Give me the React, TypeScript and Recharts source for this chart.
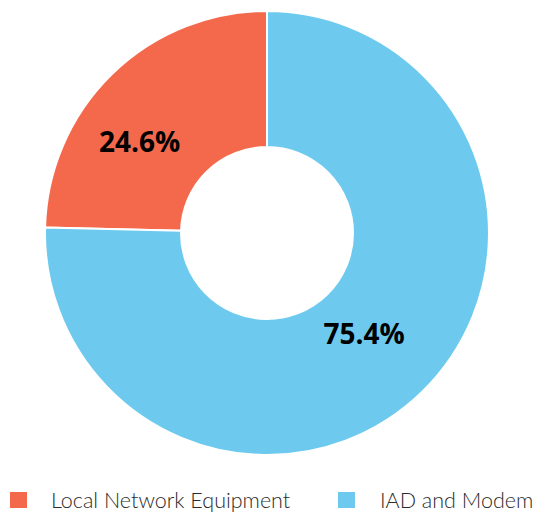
import { PieChart, Pie, Cell } from "recharts";

const categories = ["Local Network Equipment", "IAD and Modem"];
const shares = [24.6, 75.4];
const colors = ["#F4694C", "#6DCAEE"];

const data = categories.map((name, i) => ({ name, value: shares[i] }));

const RADIAN = Math.PI / 180;

// label position: a bit off the ring middle, like the original
const labelTweak = [
  { r: 157, da: 10 },
  { r: 139, da: 0 },
];

function renderLabel(props: any) {
  const { cx, cy, midAngle, index, value } = props;
  const t = labelTweak[index];
  const a = (midAngle + t.da) * RADIAN;
  const x = cx + t.r * Math.cos(a);
  const y = cy - t.r * Math.sin(a);
  return (
    <text
      x={x}
      y={y}
      fill="#000"
      textAnchor="middle"
      dominantBaseline="central"
      style={{ fontFamily: "'Open Sans', sans-serif", fontWeight: 700, fontSize: 28 }}
    >
      {value.toFixed(1)}%
    </text>
  );
}

// legend item spots (left of swatch, left of text)
const legendPos = [
  { box: 10, text: 51 },
  { box: 338, text: 380 },
];

export default function App() {
  return (
    <div style={{ width: 537, height: 512, background: "#fff", position: "relative" }}>
      <style>{"body{margin:0}"}</style>
      <PieChart width={537} height={512} margin={{ top: 0, right: 0, bottom: 0, left: 0 }}>
        <Pie
          data={data}
          dataKey="value"
          cx={267}
          cy={233}
          innerRadius={86}
          outerRadius={222}
          startAngle={90}
          endAngle={450}
          stroke="#fff"
          strokeWidth={2}
          label={renderLabel}
          labelLine={false}
          isAnimationActive={false}
        >
          {data.map((d, i) => (
            <Cell key={d.name} fill={colors[i]} />
          ))}
        </Pie>
      </PieChart>
      {categories.map((c, i) => (
        <div key={c}>
          <span
            style={{
              position: "absolute",
              left: legendPos[i].box,
              top: 492,
              width: 17,
              height: 16,
              background: colors[i],
            }}
          />
          <span
            style={{
              position: "absolute",
              left: legendPos[i].text,
              top: 489,
              fontFamily: "Lato, 'Open Sans', sans-serif",
              fontWeight: 300,
              fontSize: 21.5,
              lineHeight: "22px",
              color: "#2b2b2b",
              whiteSpace: "nowrap",
            }}
          >
            {c}
          </span>
        </div>
      ))}
    </div>
  );
}
